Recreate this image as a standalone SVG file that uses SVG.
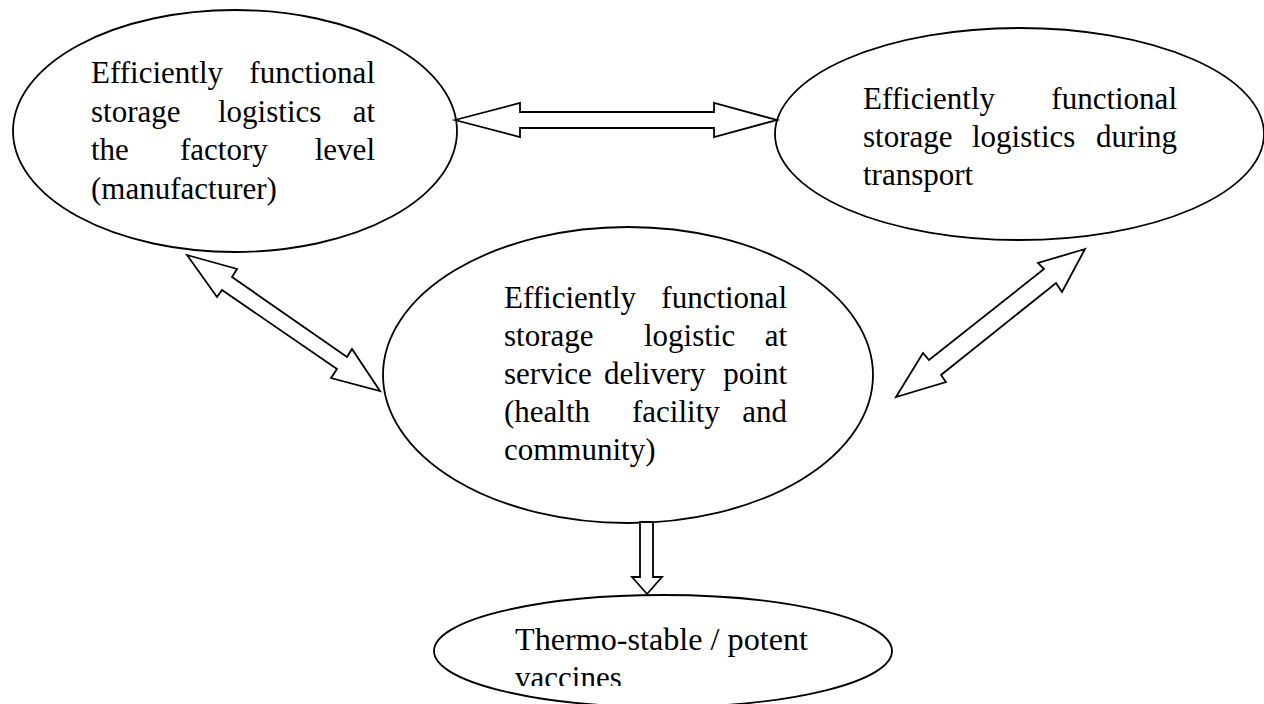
<svg xmlns="http://www.w3.org/2000/svg" width="1264" height="704" viewBox="0 0 1264 704">
<style>
.node ellipse{fill:#fff;stroke:#000;stroke-width:1.8}
.conn polygon{fill:#fff;stroke:#000;stroke-width:1.8;stroke-linejoin:miter}
text{font-family:"Liberation Serif","Times New Roman",serif;font-size:31px;fill:#000}
.e{text-anchor:end}
</style>
<defs>
<clipPath id="clip4"><rect x="430" y="590" width="470" height="96"/></clipPath>
</defs>
<rect width="1264" height="704" fill="#fff"/>
<g id="n1" class="node">
<ellipse cx="235" cy="131" rx="222" ry="121"/>
<text x="91" y="83">Efficiently</text><text class="e" x="375" y="83">functional</text>
<text x="91" y="122">storage</text><text x="218" y="122">logistics</text><text class="e" x="375" y="122">at</text>
<text x="91" y="160">the</text><text x="180" y="160">factory</text><text class="e" x="375" y="160">level</text>
<text x="91" y="199">(manufacturer)</text>
</g>
<g id="n2" class="node">
<ellipse cx="1019.5" cy="134" rx="244.5" ry="106"/>
<text x="863" y="109">Efficiently</text><text class="e" x="1177" y="109">functional</text>
<text x="863" y="147">storage</text><text x="972" y="147">logistics</text><text class="e" x="1177" y="147">during</text>
<text x="863" y="185">transport</text>
</g>
<g id="n3" class="node">
<ellipse cx="628" cy="375" rx="245" ry="148"/>
<text x="504" y="308">Efficiently</text><text class="e" x="787" y="308">functional</text>
<text x="504" y="346">storage</text><text x="644" y="346">logistic</text><text class="e" x="787" y="346">at</text>
<text x="504" y="384">service</text><text x="604" y="384">delivery</text><text class="e" x="787" y="384">point</text>
<text x="504" y="422">(health</text><text x="632" y="422">facility</text><text class="e" x="787" y="422">and</text>
<text x="504" y="460">community)</text>
</g>
<g id="n4" class="node">
<ellipse cx="663" cy="651" rx="229" ry="56"/>
<g clip-path="url(#clip4)">
<text x="515" y="650" font-size="32.5" textLength="293" lengthAdjust="spacingAndGlyphs">Thermo-stable / potent</text>
<text x="515" y="688" font-size="32.5">vaccines</text>
</g>
</g>
<g id="connectors" class="conn">
<polygon points="455,120 520,103 520,112 714,112 714,103 777,120 714,137 714,128 520,128 520,137"/>
<polygon points="187,255 237,269 232,277 347,357 352,349 380,391 331,378 337,369 222,290 217,297"/>
<polygon points="1085,249 1038,263 1044,269 929,360 923,353 896,397 946,382 941,375 1056,283 1062,292"/>
<polygon points="640,522 653,522 653,577 662,577 647,594 632,577 640,577"/>
</g>
</svg>
